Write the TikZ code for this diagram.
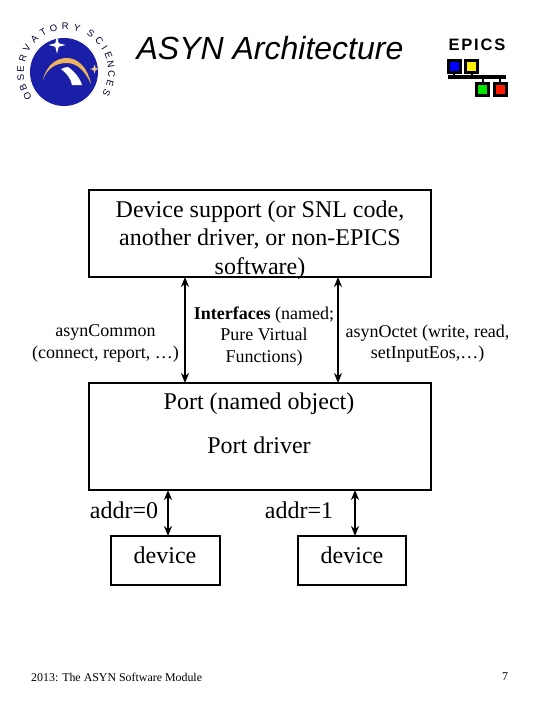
\documentclass[tikz,border=0pt]{standalone}
\usepackage{xcolor}
\usepackage{fontspec}
\setmainfont{Liberation Serif}
\setsansfont{Liberation Sans}
\newfontfamily\epicsfont[LetterSpace=11]{Liberation Sans}
\usetikzlibrary{shapes,shapes.geometric,arrows.meta,positioning,calc}
\definecolor{logoblue}{HTML}{1A1FA8}
\definecolor{logogold}{HTML}{EDB45C}

\begin{document}
\begin{tikzpicture}[
    x=1pt, y=-1pt,
    box/.style={draw, line width=2pt, inner sep=0pt, outer sep=0pt, align=center},
    bigtext/.style={inner sep=0pt, align=center, font=\fontsize{24}{28.5}\selectfont},
    lbl/.style={inner sep=0pt, align=center, font=\fontsize{18}{21.5}\selectfont},
    foot/.style={inner sep=0pt, font=\fontsize{11.9}{14}\selectfont},
    conn/.style={{Stealth[length=10pt,width=8pt]}-{Stealth[length=10pt,width=8pt]}, line width=2pt},
    letter/.style={inner sep=0pt, font=\sffamily\fontsize{9.5}{12}\selectfont, text=black!80!blue},
    epicsbox/.style={draw=black, line width=3pt, inner sep=0pt, outer sep=0pt, minimum size=12pt},
]
\useasboundingbox (0,0) rectangle (540,720);
\fill[white] (0,0) rectangle (540,720);

% logo
\node[circle, fill=logoblue, inner sep=0pt, minimum size=68pt] (logo) at (64,72) {};
\fill[logogold] (42.5,81) .. controls (47,63) and (58,58) .. (67,58) .. controls (78,58) and (88,68) .. (91,84)
    .. controls (85,71) and (77,63) .. (67,63) .. controls (56,63) and (47,68) .. (42.5,81);
\fill[white] (61,69) .. controls (63,68) and (66,67) .. (68,67) .. controls (74,71) and (80,78) .. (82,85)
    -- (72,85) .. controls (71,78) and (66,73) .. (61,69);
\node[star, star points=4, star point ratio=3.4, fill=white, inner sep=0pt, minimum size=17pt] (bigstar) at (57,45) {};
\node[star, star points=4, star point ratio=3, fill=logogold!70!white, inner sep=0pt, minimum size=9pt] (smallstar) at (94.5,69) {};
\coordinate (ring) at (66,72);
\foreach \ch/\ang [count=\i] in {O/212,B/200,S/187,E/176,R/162,V/149,A/134,T/120,O/106,R/91,Y/76,S/57,C/43,I/32,E/21,N/10,C/-2,E/-15,S/-27}
    \node[letter, rotate=\ang-90] (ch\i) at ([shift={(\ang:45.5pt)}]ring) {\ch};

% title and epics
\node[inner sep=0pt, font=\sffamily\itshape\fontsize{32}{36}\selectfont] (title) at (270,48) {ASYN Architecture};
\node[inner sep=0pt, font=\epicsfont\bfseries\fontsize{16.5}{18}\selectfont] (epics) at (477,45) {EPICS};
\node[epicsbox, fill=blue] (ebox1) at (454,66) {};
\node[epicsbox, fill=yellow] (ebox2) at (471.5,66) {};
\node[epicsbox, fill=green!90!black] (ebox3) at (482.5,89) {};
\node[epicsbox, fill=red!80!orange] (ebox4) at (500,89) {};
\node[fill=black, inner sep=0pt, outer sep=0pt, minimum width=58pt, minimum height=3.5pt] (bus) at (477,77) {};
\draw[line width=2pt] (ebox1) -- (ebox1 |- bus.north);
\draw[line width=2pt] (ebox2) -- (ebox2 |- bus.north);
\draw[line width=2pt] (ebox3) -- (ebox3 |- bus.south);
\draw[line width=2pt] (ebox4) -- (ebox4 |- bus.south);

% boxes
\node[box, minimum width=342pt, minimum height=87pt] (support) at (260,233.5) {};
\node[box, minimum width=342pt, minimum height=107pt] (port) at (260,436.5) {};
\node[box, minimum width=109pt, minimum height=49pt] (dev0) at (165.5,560.5) {};
\node[box, minimum width=108pt, minimum height=49pt] (dev1) at (352,560.5) {};

\node[bigtext] (supporttxt) at (260,240)
    {Device support (or SNL code,\\another driver, or non-EPICS\\software)};
\node[bigtext] (portname) at (259,404) {Port (named object)};
\node[bigtext] (portdrv) at (259,445) {Port driver};
\node[bigtext] (addr0) at (124,510) {addr=0};
\node[bigtext] (addr1) at (299,510) {addr=1};
\node[bigtext] (dev0txt) at (165,555) {device};
\node[bigtext] (dev1txt) at (352,555) {device};

% labels
\node[lbl] (common) at (105.5,343.5) {asynCommon\\(connect, report, \dots)};
\node[lbl] (iface) at (264,336.5) {\textbf{Interfaces} (named;\\Pure Virtual\\Functions)};
\node[lbl] (octet) at (427.5,343.5) {asynOctet (write, read,\\setInputEos,\dots)};

% connectors
\coordinate (ifl) at (185,330);
\coordinate (ifr) at (338,330);
\coordinate (adl) at (168,513);
\coordinate (adr) at (355,513);
\draw[conn] (ifl |- support.south) -- (ifl |- port.north);
\draw[conn] (ifr |- support.south) -- (ifr |- port.north);
\draw[conn] (adl |- port.south) -- (adl |- dev0.north);
\draw[conn] (adr |- port.south) -- (adr |- dev1.north);

% footer
\node[foot, anchor=west] (footer) at (31,677) {2013: The ASYN Software Module};
\node[foot] (pageno) at (505,677) {7};
\end{tikzpicture}
\end{document}
